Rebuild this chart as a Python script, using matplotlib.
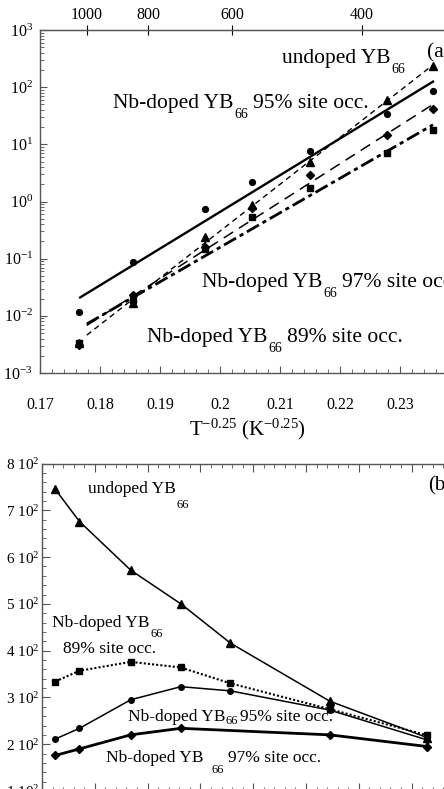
import numpy as np
import matplotlib
matplotlib.use('Agg')
import matplotlib.pyplot as plt
from matplotlib.ticker import MultipleLocator, LogLocator, FuncFormatter, NullFormatter, NullLocator, LogFormatterMathtext
from matplotlib.transforms import IdentityTransform

# ---------------- Panel (a) data ----------------
x_a = [0.1765, 0.1855, 0.1975, 0.2053, 0.2150, 0.2278, 0.2355]
a_undoped = [0.0033, 0.0166, 0.24, 0.87, 4.9, 60, 238]
a_95 = [0.0118, 0.089, 0.73, 2.2, 7.6, 33.5, 87]
a_97 = [0.0031, 0.023, 0.16, 0.76, 2.9, 14.6, 41]
a_89 = [0.0034, 0.019, 0.15, 0.53, 1.7, 7.0, 17.8]
# fitted straight lines (end points)
fit_x_undoped = [0.1778, 0.2355]
fit_y_undoped = [0.0046, 245]
fit_x_95 = [0.1767, 0.2355]
fit_y_95 = [0.021, 125]
fit_x_97 = [0.1778, 0.2355]
fit_y_97 = [0.0068, 50]
fit_x_89 = [0.1778, 0.2355]
fit_y_89 = [0.0072, 22]
top_T = [1000, 800, 600, 400]

# ---------------- Panel (b) data ----------------
T_b = [325, 371, 468, 563, 657, 845, 1030]
b_undoped = [745, 676, 572, 500, 416, 292, 214]
b_89 = [334, 357, 376, 364, 330, 275, 219]
b_95 = [211, 234, 295, 323, 314, 273, 209]
T_b97 = [325, 371, 468, 563, 845, 1030]
b_97 = [176, 190, 220, 234, 220, 195]

plt.rcParams['font.family'] = ['Liberation Serif', 'DejaVu Serif']
plt.rcParams['mathtext.fontset'] = 'custom'
plt.rcParams['mathtext.rm'] = 'Liberation Serif'
plt.rcParams['mathtext.it'] = 'Liberation Serif:italic'
plt.rcParams['mathtext.bf'] = 'Liberation Serif:bold'
plt.rcParams['lines.scale_dashes'] = False
plt.rcParams['axes.unicode_minus'] = False

W, H = 444, 789
fig = plt.figure(figsize=(W / 100, H / 100), dpi=100)
SP = '#555555'


def rect(l, t, r, b):
    return [l / W, 1 - b / H, (r - l) / W, (b - t) / H]


# ================= Panel (a) =================
axa = fig.add_axes(rect(40, 30, 490, 373))
axa.set_xlim(0.17, 0.245)
axa.set_yscale('log')
axa.set_ylim(1e-3, 1e3)
for s in ['top', 'left', 'bottom', 'right']:
    axa.spines[s].set_color(SP)
    axa.spines[s].set_linewidth(1.0)

axa.plot(fit_x_undoped, fit_y_undoped, color='k', lw=1.0, dashes=(4, 3))
axa.plot(fit_x_95, fit_y_95, color='k', lw=1.7)
axa.plot(fit_x_97, fit_y_97, color='k', lw=1.1, dashes=(8, 5))
axa.plot(fit_x_89, fit_y_89, color='k', lw=2.0, dashes=(10, 3, 3, 3))

axa.plot(x_a, a_undoped, ls='none', marker='^', ms=5.5, color='k')
axa.plot(x_a, a_95, ls='none', marker='o', ms=4.2, color='k')
axa.plot(x_a, a_97, ls='none', marker='D', ms=4.2, color='k')
axa.plot(x_a, a_89, ls='none', marker='s', ms=3.8, color='k')


def fmt_a(v, p):
    if v > 0.2355:
        return ""
    if abs(v - 0.2) < 1e-6:
        return "0.2"
    return f"{v:.2f}"


axa.xaxis.set_major_locator(MultipleLocator(0.01))
axa.xaxis.set_minor_locator(MultipleLocator(0.002))
axa.xaxis.set_major_formatter(FuncFormatter(fmt_a))
axa.yaxis.set_major_locator(LogLocator(base=10, numticks=10))
axa.yaxis.set_minor_locator(LogLocator(base=10, subs=np.arange(2, 10), numticks=20))
axa.yaxis.set_minor_formatter(NullFormatter())
axa.yaxis.set_major_formatter(LogFormatterMathtext())
axa.tick_params(axis='x', which='both', direction='in', top=False, bottom=True, colors=SP, labelcolor='k', labelsize=11.5, pad=17)
axa.tick_params(axis='x', which='major', length=5)
axa.tick_params(axis='x', which='minor', length=3)
axa.tick_params(axis='y', which='both', direction='in', left=True, right=False, colors=SP, labelcolor='k', labelsize=11.5, pad=5)
axa.tick_params(axis='y', which='major', length=5)
axa.tick_params(axis='y', which='minor', length=3)

sec = axa.secondary_xaxis('top', functions=(lambda x: np.power(np.clip(x, 1e-6, None), -4.0),
                                           lambda T: np.power(np.clip(T, 1e-6, None), -0.25)))
sec.set_xticks(top_T)
sec.set_xticklabels([str(t) for t in top_T])
sec.xaxis.set_minor_locator(NullLocator())
sec.tick_params(axis='x', direction='inout', length=7, colors='k', labelsize=11.5, pad=1.5)
sec.spines['top'].set_color(SP)

# ================= Panel (b) =================
axb = fig.add_axes(rect(42, 463.5, 42 + 800 * 0.528, 791))
axb.set_xlim(300, 1100)
axb.set_ylim(100, 800)
for s in ['top', 'left', 'bottom', 'right']:
    axb.spines[s].set_color(SP)
    axb.spines[s].set_linewidth(1.0)

axb.plot(T_b, b_undoped, color='k', lw=1.1, marker='^', ms=5.5)
axb.plot(T_b, b_89, color='k', lw=1.5, ls=(0, (1.5, 1.5)), marker='s', ms=4)
axb.plot(T_b, b_95, color='k', lw=1.1, marker='o', ms=4)
axb.plot(T_b97, b_97, color='k', lw=2.0, marker='D', ms=4.5)

axb.xaxis.set_major_locator(MultipleLocator(100))
axb.xaxis.set_minor_locator(MultipleLocator(20))
axb.yaxis.set_major_locator(MultipleLocator(100))
axb.yaxis.set_minor_locator(MultipleLocator(20))
axb.yaxis.set_major_formatter(FuncFormatter(lambda v, p: f"{int(round(v / 100))} 10$^2$"))
axb.tick_params(axis='x', which='both', direction='in', top=True, bottom=True, labeltop=False,
                labelbottom=False, colors=SP)
axb.tick_params(axis='x', which='major', length=6)
axb.tick_params(axis='x', which='minor', length=3)
axb.tick_params(axis='y', which='both', direction='in', left=True, right=False, colors=SP,
                labelcolor='k', labelsize=11, pad=2)
axb.tick_params(axis='y', which='major', length=6)
axb.tick_params(axis='y', which='minor', length=3)

# ================= Text =================
renderer = fig.canvas.get_renderer()


def rich(x, y_base, parts):
    cx = x
    for s, size, drop, gap in parts:
        cx += gap
        t = fig.text(cx, H - (y_base + drop), s, fontsize=size, transform=IdentityTransform(),
                     ha='left', va='baseline', color='k')
        cx += t.get_window_extent(renderer).width


FA, SA = 15.5, 10
rich(282, 63, [("undoped YB", FA, 0, 0), ("66", SA, 10, 1)])
rich(113, 108, [("Nb-doped YB", FA, 0, 0), ("66", SA, 10, 1), ("95% site occ.", FA, 0, 5)])
rich(202, 287, [("Nb-doped YB", FA, 0, 0), ("66", SA, 10, 1), ("97% site occ.", FA, 0, 5)])
rich(147, 342, [("Nb-doped YB", FA, 0, 0), ("66", SA, 10, 1), ("89% site occ.", FA, 0, 5)])
rich(427, 57, [("(a)", FA, 0, 0)])
fig.text(247, H - 435, "T$^{-0.25}$ (K$^{-0.25}$)", fontsize=15, transform=IdentityTransform(),
         ha='center', va='baseline')

FB, SB = 12.5, 9
rich(88, 493, [("undoped YB", FB, 0, 0), ("66", SB, 15, 1)])
rich(52, 627, [("Nb-doped YB", FB, 0, 0), ("66", SB, 10, 1)])
rich(63, 653, [("89% site occ.", FB, 0, 0)])
rich(128, 721, [("Nb-doped YB", FB, 0, 0), ("66", SB, 3, 0), ("95% site occ.", FB, 0, 2)])
rich(106, 762, [("Nb-doped YB", FB, 0, 0), ("66", SB, 11, 8), ("97% site occ.", FB, 0, 4)])
rich(428, 490, [("(b)", 15, 0, 0)])

fig.savefig('out.png', dpi=100)
